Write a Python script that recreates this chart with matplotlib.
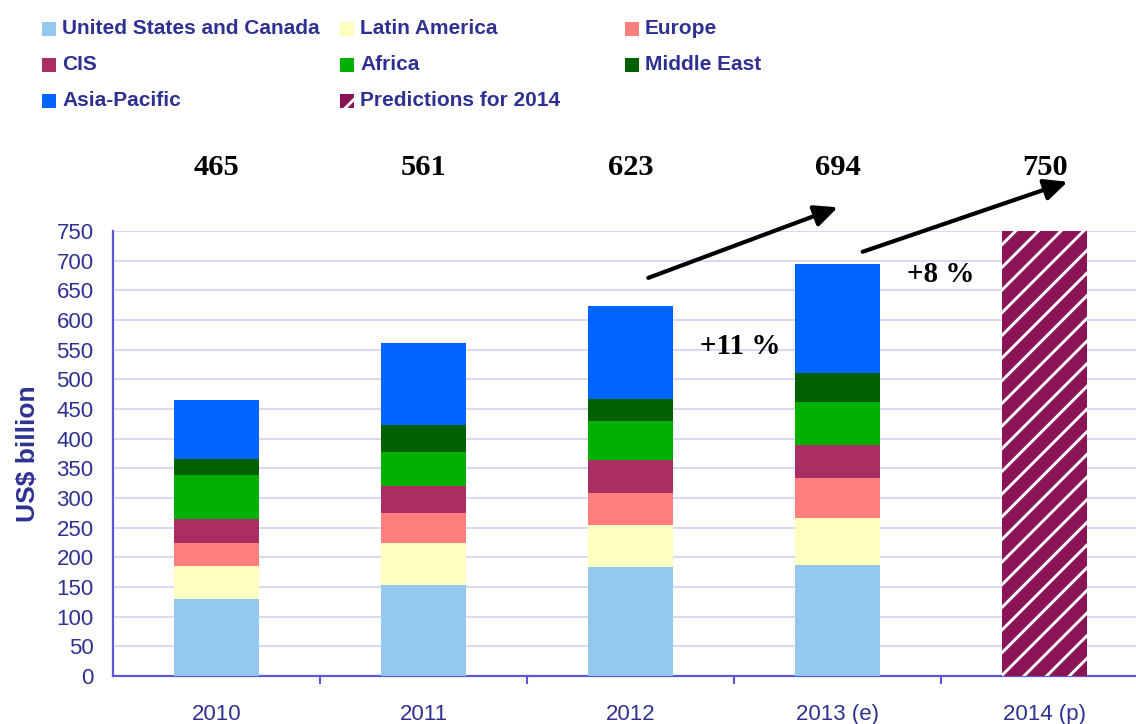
import matplotlib
matplotlib.use("Agg")
import matplotlib.pyplot as plt
from matplotlib.patches import Rectangle

years = ["2010", "2011", "2012", "2013 (e)", "2014 (p)"]
regions = ["United States and Canada", "Latin America", "Europe", "CIS",
           "Africa", "Middle East", "Asia-Pacific"]
us_canada = [129, 153, 183, 187]
latin_america = [57, 71, 72, 80]
europe = [39, 50, 54, 66]
cis = [40, 46, 55, 57]
africa = [74, 57, 66, 72]
middle_east = [26, 46, 37, 48]
asia_pacific = [100, 138, 156, 184]
totals = [465, 561, 623, 694, 750]
prediction_2014 = 750
growth = ["+11 %", "+8 %"]

colors = ["#95c8ee", "#ffffc0", "#ff7f7f", "#a92e63", "#00b000", "#006000", "#0064ff"]
pred_color = "#8b1457"
text_blue = "#2e3192"
axis_blue = "#5a5ad8"

# hatch spacing follows the dpi, so render at a higher dpi and scale point sizes down
DPI = 136.3
f = 100 / DPI

plt.rcParams["font.family"] = ["Liberation Sans", "DejaVu Sans"]
plt.rcParams["hatch.linewidth"] = 2.1 * f

fig = plt.figure(figsize=(1136 / DPI, 724 / DPI), dpi=DPI)
ax = fig.add_axes([113 / 1136, 48 / 724, 1 - 113 / 1136, 445 / 724])

series = [us_canada, latin_america, europe, cis, africa, middle_east, asia_pacific]
x = list(range(4))
bottom = [0] * 4
for vals, c in zip(series, colors):
    ax.bar(x, vals, width=0.41, bottom=bottom, color=c, linewidth=0, zorder=3)
    bottom = [b + v for b, v in zip(bottom, vals)]

ax.bar([4], [prediction_2014], width=0.41, facecolor=pred_color,
       edgecolor="white", hatch="//", linewidth=0, zorder=3)

ax.set_xlim(-0.5, 4.44)
ax.set_ylim(0, 750)
ax.set_yticks(range(0, 751, 50))
ax.yaxis.grid(True, color="#d2d2f2", linewidth=1.2 * f, zorder=0)
ax.set_axisbelow(True)
ax.tick_params(axis="y", length=0, labelsize=16 * f, labelcolor=text_blue, pad=14 * f)

ax.set_xticks([0.5, 1.5, 2.5, 3.5])
ax.set_xticklabels([])
ax.set_xticks(range(5), minor=True)
ax.set_xticklabels(years, minor=True)
ax.tick_params(axis="x", which="major", length=6 * f, width=1.5 * f, color=axis_blue, direction="out")
ax.tick_params(axis="x", which="minor", length=0, labelsize=16 * f, labelcolor=text_blue, pad=20 * f)

for s in ["top", "right"]:
    ax.spines[s].set_visible(False)
for s in ["left", "bottom"]:
    ax.spines[s].set_color(axis_blue)
    ax.spines[s].set_linewidth(1.6 * f)

ax.set_ylabel("US$ billion", fontsize=19 * f, fontweight="bold", color=text_blue)
ax.yaxis.set_label_coords(-0.071, 0.5)

# totals above the bars
for i, t in enumerate(totals):
    ax.text(i, 857, str(t), ha="center", va="center", fontsize=22 * f, fontweight="bold",
            family="Liberation Serif", clip_on=False)

# growth arrows
arrow = dict(arrowstyle="-|>,head_length=1.4,head_width=0.65", color="black", lw=3 * f,
             mutation_scale=10 * f, shrinkA=0, shrinkB=0)
ax.annotate("", xy=(3.0, 790), xytext=(2.085, 671), arrowprops=arrow, annotation_clip=False)
ax.annotate("", xy=(4.11, 833), xytext=(3.12, 715), arrowprops=arrow, annotation_clip=False)
ax.text(2.53, 556, growth[0], ha="center", va="center", fontsize=21 * f, fontweight="bold",
        family="Liberation Serif")
ax.text(3.495, 677, growth[1], ha="center", va="center", fontsize=21 * f, fontweight="bold",
        family="Liberation Serif")

# legend, drawn by hand
leg_items = [(regions[0], colors[0], None), (regions[1], colors[1], None), (regions[2], colors[2], None),
             (regions[3], colors[3], None), (regions[4], colors[4], None), (regions[5], colors[5], None),
             (regions[6], colors[6], None), ("Predictions for 2014", pred_color, "//")]
col_x = [42, 340, 625]
row_y = [29, 65, 101]
for k, (lab, c, h) in enumerate(leg_items):
    px = col_x[k % 3]
    py = row_y[k // 3]
    r = Rectangle((px / 1136, 1 - (py + 7) / 724), 14 / 1136, 14 / 724, transform=fig.transFigure,
                  facecolor=c, edgecolor="white", hatch=h, linewidth=0)
    fig.add_artist(r)
    fig.text((px + 20) / 1136, 1 - py / 724, lab, ha="left", va="center", fontsize=15 * f,
             fontweight="bold", color=text_blue)

fig.savefig("out.png", dpi=DPI)
